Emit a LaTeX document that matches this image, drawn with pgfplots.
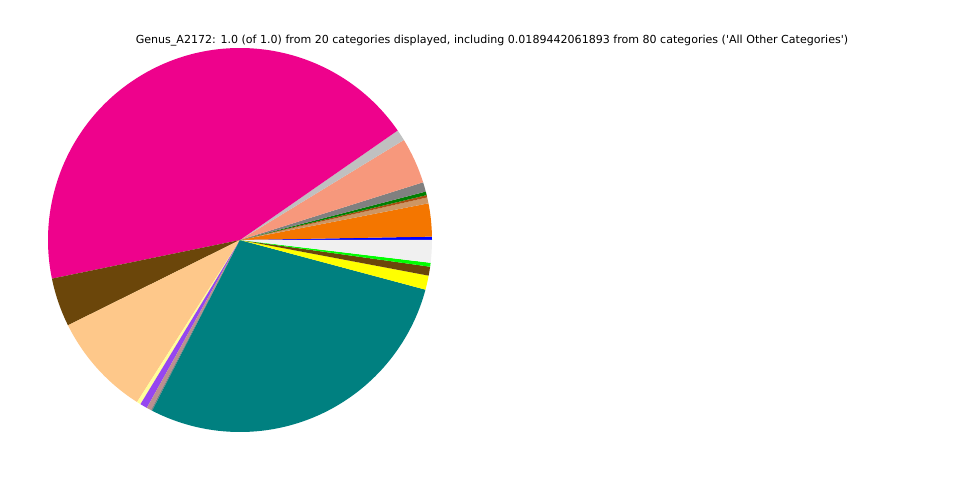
\documentclass[border=0pt]{standalone}
\usepackage{pgfplots}
\usepackage{pgfplotstable}
\pgfplotsset{compat=1.18}
\usepackage{fontspec}
\setmainfont{DejaVu Sans}
\newfontfamily\titlefont{DejaVu Sans}

\definecolor{cBlue}{RGB}{0,0,255}
\definecolor{cOrange}{RGB}{244,118,0}
\definecolor{cTan}{RGB}{205,150,100}
\definecolor{cSienna}{RGB}{170,80,20}
\definecolor{cGreen}{RGB}{0,128,0}
\definecolor{cGray}{RGB}{128,128,128}
\definecolor{cSalmon}{RGB}{247,152,124}
\definecolor{cSilver}{RGB}{192,192,192}
\definecolor{cMagenta}{RGB}{238,2,140}
\definecolor{cBrown}{RGB}{107,70,10}
\definecolor{cPeach}{RGB}{254,200,138}
\definecolor{cPaleYellow}{RGB}{255,255,153}
\definecolor{cPurple}{RGB}{150,70,240}
\definecolor{cMauve}{RGB}{188,143,143}
\definecolor{cTeal}{RGB}{0,128,128}
\definecolor{cYellow}{RGB}{255,255,0}
\definecolor{cLime}{RGB}{0,255,0}
\definecolor{cOther}{RGB}{240,240,240}

% share of each genus in percent, counterclockwise from 0 degrees
\pgfplotstableread{
share  colour
0.28   cBlue
2.78   cOrange
0.50   cTan
0.20   cSienna
0.30   cGreen
0.80   cGray
3.86   cSalmon
0.94   cSilver
43.566 cMagenta
4.10   cBrown
8.67   cPeach
0.33   cPaleYellow
0.61   cPurple
0.39   cMauve
0.11   cGray
28.40  cTeal
1.19   cYellow
0.75   cBrown
0.33   cLime
1.894  cOther
}\piedata

\begin{document}
\begin{tikzpicture}
\begin{axis}[
  at={(0,0)}, anchor=south west,
  scale only axis, width=960bp, height=480bp,
  xmin=0, xmax=960, ymin=0, ymax=480,
  hide axis, clip=false,
]
\pgfplotstablegetrowsof{\piedata}
\pgfmathtruncatemacro\nrows{\pgfplotsretval-1}
\def\angacc{0}
\pgfplotsforeachungrouped \i in {0,...,\nrows}{
  \pgfplotstablegetelem{\i}{share}\of\piedata \let\share\pgfplotsretval
  \pgfplotstablegetelem{\i}{colour}\of\piedata \let\col\pgfplotsretval
  \pgfmathsetmacro\angend{\angacc+3.6*\share}
  \edef\temp{\noexpand\fill[\col] (axis cs:240,240) -- ++(\angacc:192bp)
    arc[start angle=\angacc, end angle=\angend, radius=192bp] -- cycle;}
  \temp
  \let\angacc\angend
}
\node[font=\titlefont\fontsize{11.1}{13}\selectfont] at (axis cs:492,439)
  {Genus\_A2172: 1.0 (of 1.0) from 20 categories displayed, including 0.0189442061893 from 80 categories ('All Other Categories')};
\end{axis}
\path (0,0) rectangle (960bp,480bp);
\end{tikzpicture}
\end{document}
